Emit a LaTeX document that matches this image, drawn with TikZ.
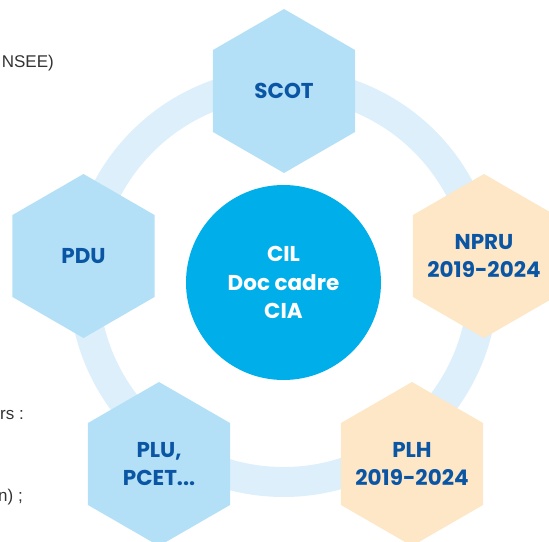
\documentclass[tikz,border=0pt]{standalone}
\usepackage{fontspec}
\setmainfont{Poppins}
\newfontfamily\texteFont{Liberation Sans}
\usetikzlibrary{shapes.geometric}
\definecolor{hexBleu}{HTML}{B3E0F7}
\definecolor{hexPeche}{HTML}{FDE7C6}
\definecolor{bleuTexte}{HTML}{0B56A4}
\definecolor{bleuCentre}{HTML}{00AEE9}
\definecolor{bleuAnneau}{HTML}{DCEFFB}
\definecolor{grisTexte}{HTML}{333333}

\begin{document}
\begin{tikzpicture}[x=1pt,y=-1pt,
                    hexND/.style={regular polygon,
                                  regular polygon sides=6,
                                  shape border rotate=30,
                                  minimum size=164pt,
                                  inner sep=-12pt,
                                  fill=hexBleu,
                                  text=bleuTexte,
                                  align=center,
                                  font=\bfseries\fontsize{21.5}{28.5}\selectfont},
                    centreND/.style={circle,
                                     fill=bleuCentre,
                                     minimum size=195pt,
                                     inner sep=0pt,
                                     text=white,
                                     align=center,
                                     font=\bfseries\fontsize{21.5}{28.5}\selectfont},
                    texteND/.style={anchor=base east,
                                    inner sep=0pt,
                                    text=grisTexte,
                                    font=\texteFont\fontsize{17}{20}\selectfont}]
    \useasboundingbox (0,0) rectangle (549,541);
    \coordinate (O) at (283.5,282.5);
    % anneau
    \draw[bleuAnneau, line width=30pt] (O) circle (199.5);
    % centre
    \node[centreND](CIL) at (O) {CIL\\Doc cadre\\CIA};
    % hexagones
    \node[hexND](SCOT) at (284,91)   {SCOT};
    \node[hexND](PDU)  at (83.5,256) {PDU};
    \node[hexND,fill=hexPeche](NPRU) at (484,256) {NPRU\\2019-2024};
    \node[hexND](PLU)  at (159,464)  {PLU,\\PCET...};
    \node[hexND,fill=hexPeche](PLH)  at (412,464) {PLH\\2019-2024};
    % texte coupe a gauche
    \node[texteND](T1) at (54,67)  {NSEE)};
    \node[texteND](T2) at (24,419) {rs :};
    \node[texteND](T3) at (23,501) {n) ;};
\end{tikzpicture}
\end{document}
